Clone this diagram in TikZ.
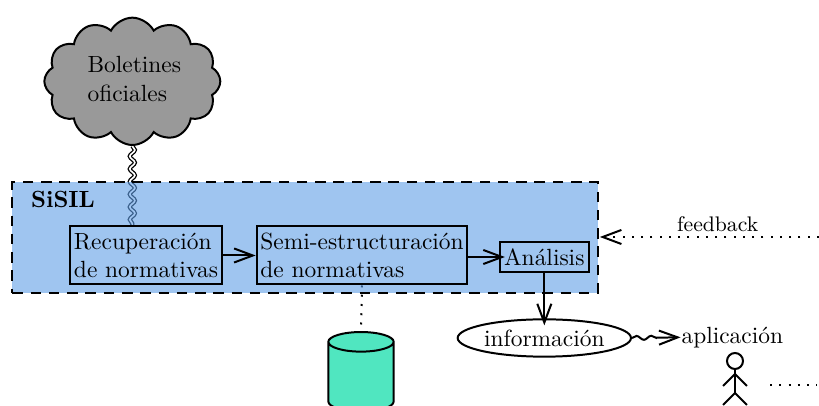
\documentclass[tikz,border=0pt]{standalone}
\usepackage{amsfonts}
\usepackage{amsmath}
\usepackage{tikz}
\usetikzlibrary{positioning,shapes,calc,arrows.meta,backgrounds,decorations.pathmorphing}
\definecolor{sisilblue}{RGB}{95,158,230}
\definecolor{dbgreen}{RGB}{80,230,192}

\begin{document}
\begin{tikzpicture}[
	>={Straight Barb[length=8pt,width=6pt,line width=0.85pt]},
	every path/.style={line width=0.85pt},
	procbox/.style={draw,rectangle,align=left,inner xsep=1.5pt,inner ysep=0pt,minimum height=0.87cm},
	dots/.style={dash pattern=on 0.85pt off 3.1pt},
	wave/.style={decorate,decoration={snake,amplitude=0.38mm,segment length=1.9mm}}
	]
				\useasboundingbox (0,0) rectangle (12.285,6.09);
				\node[draw,cloud,cloud puffs=12,cloud puff arc=125,aspect=1.4,fill=black!40,inner sep=0pt,minimum width=2.64cm,minimum height=1.91cm] (cloud) at (1.985,4.87) {};
				\node[align=left,inner sep=0pt] (cloudtext) at (2.015,4.905) {Boletines\\oficiales};
				\node[draw,dash pattern=on 4.5pt off 3.3pt,fill=sisilblue,fill opacity=0.6,minimum width=8.78cm,minimum height=1.67cm] (sisil) at (4.575,2.53) {};
				\node[font=\bfseries] (sisilname) at (0.945,3.1) {SiSIL};
				\node[procbox,minimum width=2.26cm] (recup) at (2.19,2.2575) {Recuperaci\'on\\de normativas};
				\node[procbox,minimum width=3.16cm] (semi) at (5.43,2.2575) {Semi-estructuraci\'on\\de normativas};
				\node[draw,inner sep=0pt,minimum width=1.33cm,minimum height=0.46cm] (analisis) at (8.165,2.235) {An\'alisis};
				\node[draw,cylinder,shape border rotate=90,aspect=0.3,fill=dbgreen,inner xsep=0.49cm,inner ysep=0pt,minimum height=1.19cm] (db) at (5.415,0.36) {};
				\node[draw,ellipse,inner sep=0pt,minimum width=2.6cm,minimum height=0.56cm] (info) at (8.165,1.02) {informaci\'on};
				\node[inner sep=0pt] (aplic) at (10.985,1.03) {aplicaci\'on};
				\node[draw,circle,inner sep=0pt,minimum size=0.24cm] (head) at (11.025,0.675) {};
				\coordinate (neck) at (11.025,0.48);
				\coordinate (hip) at (11.025,0.195);
				\coordinate (lefthand) at (10.845,0.3);
				\coordinate (righthand) at (11.205,0.3);
				\coordinate (leftfoot) at (10.845,0.015);
				\coordinate (rightfoot) at (11.205,0.015);
				\coordinate (dotsa) at (11.55,0.315);
				\coordinate (dotsb) at (12.26,0.315);
				\coordinate (fbend) at (12.285,2.535);
				\begin{scope}[on background layer]
				\draw[double,double distance=0.7pt,line width=0.55pt,wave] (cloud.south) -- (cloud.south |- recup.north);
				\draw[dots] (semi.south) -- (db.north);
				\end{scope}
				\draw[->] (recup.east) -- (semi.west);
				\draw[->,shorten >=-2.5pt] (semi.east |- analisis.west) -- (analisis.west);
				\draw[->,shorten >=-3pt] (analisis.south) -- (info.north);
				\draw[->,decorate,decoration={snake,amplitude=0.3mm,segment length=2.2mm,post length=3.5mm}] (info.east) -- (aplic.west);
				\draw[->,dots,shorten >=0.5pt] (fbend) -- node[above,pos=0.46,inner sep=1.9pt,solid,font=\small] (fb) {feedback} (sisil.east |- fbend);
				\draw (head) -- (hip);
				\draw (lefthand) -- (neck) -- (righthand);
				\draw (leftfoot) -- (hip) -- (rightfoot);
				\draw[dots] (dotsa) -- (dotsb);
\end{tikzpicture}
\end{document}
